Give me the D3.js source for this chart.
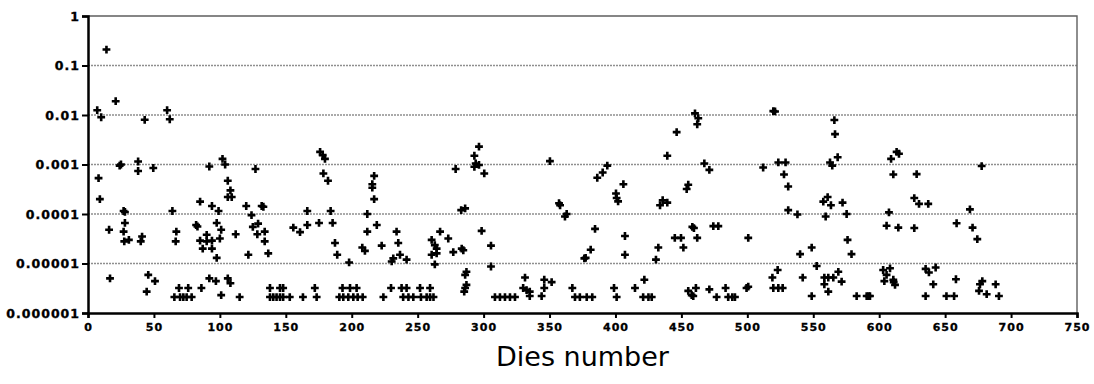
<!DOCTYPE html>
<html>
<head>
<meta charset="utf-8">
<script src="https://cdn.jsdelivr.net/npm/d3@7"></script>
<style>
  html, body { margin: 0; padding: 0; background: #fff; }
  svg { display: block; }
</style>
</head>
<body>
<svg id="chart" width="1094" height="384"></svg>
<script>
// Die index of each measured die
const dieNumber = [
  7, 10, 14, 21, 43, 60, 62,
  8, 9, 24, 25, 38, 38, 49.5,
  27, 28, 16, 28, 27, 27.5, 31, 41, 40,
  64, 67, 66.5,
  85, 94, 99, 92, 102, 104, 106, 108, 106, 109,
  120, 124, 125, 127,
  82, 83, 97.6, 101,
  85, 90, 90, 94, 87, 94, 100, 97.6, 112, 121.6,
  16.7, 45.7, 44.5, 50.8, 69, 76, 65.5, 69.8, 72.3, 74.8, 78.6, 86, 92, 97, 101, 106, 108, 115,
  131.7, 133, 129, 128.4, 134, 134, 136.7,
  155.7, 160.8, 166.3, 166.3, 175.2,
  176, 178, 179.7, 178.5, 182, 184, 185.5, 187.3, 189, 198,
  208, 210, 211.8, 211.8, 219, 222.7,
  217, 215.6, 215.6, 217,
  234, 235.3, 231.5, 230.3, 236.6, 241.6,
  138, 145.6, 148, 172, 193, 198.7, 203.7, 229.8, 237.8, 241.6, 251.8,
  138, 140.5, 143, 145.6, 148, 153, 163, 173.4, 190.6, 193.6, 197.4, 201.2, 204.5, 208.3, 224, 239, 243, 246.7,
  296.5, 293, 294, 296.5, 293, 300.5, 278.8,
  283, 286,
  350.3, 357.2, 358, 361.7, 363,
  267, 273.2,
  260.6, 263, 264.4, 260.6, 264.4, 263,
  277, 283.4, 284.6, 298.5, 305.6, 305.6,
  287, 286, 287, 286, 285.3,
  331.4, 330, 332.6, 335, 335,
  346, 346, 351.6, 344,
  367.3, 369.3, 373, 376.4,
  259.4,
  252.5, 256.8, 259.4, 262,
  308.6, 312.4, 316.2, 320, 323.8,
  460.3, 462.8, 462, 446.4, 439.3, 467.4, 471.2,
  393.8, 390.3, 386.2, 406, 400.4, 400.9, 402,
  455.2, 454, 435.8, 439.3, 433.8,
  384.5, 381.2, 377.4, 407.2, 407.2, 432.5, 430.7,
  445, 449.7, 451.5, 458.3, 459.5, 462, 474.2, 478, 500.7,
  378.2, 382.4, 398.9, 400.9, 414.8, 421.9, 421, 425, 427.5,
  455.2, 457.8, 459, 461, 471.2, 476.7, 483.5, 485.5, 488.6, 490.6, 499.4,
  519.7, 521, 566, 566.5, 568.5, 562.7, 564.4,
  512, 523.5, 529, 527.8, 531, 531, 538,
  609, 613.2, 615, 610.7,
  557.6, 560.9, 563.4, 559.4, 572.2, 575.3,
  576, 579,
  607.4, 605.6, 614.5,
  540, 548.8, 552.6,
  558.4, 561.4, 565.2, 569, 571.5, 558.4, 561.4,
  523, 519, 519.7, 523.5, 526.8,
  542, 548.8,
  582.9, 590.5, 592, 593,
  603, 608.2, 605.6, 603.9, 610.7, 612, 611,
  500.7,
  628.4, 626.6, 630.2, 637.2, 626.6,
  677.7, 668.8, 658.7, 670.8, 674.4,
  635.2, 637.7, 642.8, 641, 635.2, 658.2, 651, 656.8,
  676.4, 678.2, 675.7, 681.5, 688.3, 690.8
];

// Measured value of each die, same order as dieNumber
const dieValue = [
  0.0125, 0.009, 0.21, 0.019, 0.008, 0.0125, 0.0082,
  5.3e-4, 2.0e-4, 9.5e-4, 1.0e-3, 1.15e-3, 7.4e-4, 8.5e-4,
  1.15e-4, 1.1e-4, 4.8e-5, 6.6e-5, 4.4e-5, 2.8e-5, 3.0e-5, 3.5e-5, 2.8e-5,
  1.15e-4, 4.4e-5, 2.8e-5,
  1.78e-4, 1.45e-4, 1.15e-4, 9.1e-4, 1.3e-3, 1.0e-3, 4.7e-4, 3.0e-4, 2.2e-4, 2.2e-4,
  1.45e-4, 9.5e-5, 5.5e-5, 8.1e-4,
  6.0e-5, 5.6e-5, 6.6e-5, 4.8e-5,
  2.9e-5, 3.8e-5, 2.8e-5, 2.9e-5, 2.0e-5, 2.0e-5, 3.2e-5, 1.3e-5, 3.9e-5, 1.5e-5,
  5.0e-6, 5.9e-6, 2.7e-6, 4.4e-6, 3.2e-6, 3.2e-6, 2.1e-6, 2.1e-6, 2.1e-6, 2.1e-6, 2.1e-6, 3.2e-6, 5.0e-6, 4.4e-6, 2.3e-6, 5.0e-6, 4.0e-6, 2.1e-6,
  1.45e-4, 1.4e-4, 6.4e-5, 3.9e-5, 4.4e-5, 2.8e-5, 1.6e-5,
  5.3e-5, 4.3e-5, 6.0e-5, 1.15e-4, 6.6e-5,
  1.8e-3, 1.55e-3, 1.3e-3, 6.6e-4, 4.7e-4, 1.15e-4, 6.6e-5, 2.6e-5, 1.5e-5, 1.05e-5,
  2.1e-5, 1.8e-5, 4.4e-5, 1.0e-4, 6.0e-5, 2.3e-5,
  5.9e-4, 4.0e-4, 3.4e-4, 2.0e-4,
  4.4e-5, 2.6e-5, 1.27e-5, 1.1e-5, 1.5e-5, 1.2e-5,
  3.2e-6, 3.2e-6, 3.2e-6, 3.2e-6, 3.2e-6, 3.2e-6, 3.2e-6, 3.2e-6, 3.2e-6, 3.2e-6, 3.2e-6,
  2.1e-6, 2.1e-6, 2.1e-6, 2.1e-6, 2.1e-6, 2.1e-6, 2.1e-6, 2.1e-6, 2.1e-6, 2.1e-6, 2.1e-6, 2.1e-6, 2.1e-6, 2.1e-6, 2.1e-6, 2.1e-6, 2.1e-6, 2.1e-6,
  2.3e-3, 1.5e-3, 1.05e-3, 9.8e-4, 9.0e-4, 6.6e-4, 8.1e-4,
  1.2e-4, 1.3e-4,
  1.17e-3, 1.65e-4, 1.5e-4, 8.9e-5, 1.0e-4,
  4.4e-5, 3.2e-5,
  3.0e-5, 2.35e-5, 2.0e-5, 1.5e-5, 1.6e-5, 9.6e-6,
  1.7e-5, 2.0e-5, 1.85e-5, 4.55e-5, 2.3e-5, 8.7e-6,
  6.8e-6, 5.9e-6, 3.7e-6, 3.2e-6, 2.7e-6,
  5.2e-6, 3.2e-6, 2.9e-6, 2.7e-6, 2.2e-6,
  4.7e-6, 3.2e-6, 4.2e-6, 2.2e-6,
  3.2e-6, 2.1e-6, 2.1e-6, 1.27e-5,
  3.2e-6,
  2.1e-6, 2.1e-6, 2.1e-6, 2.1e-6,
  2.1e-6, 2.1e-6, 2.1e-6, 2.1e-6, 2.1e-6,
  0.0108, 0.0086, 0.0065, 4.5e-3, 1.5e-3, 1.05e-3, 7.8e-4,
  9.5e-4, 6.9e-4, 5.4e-4, 4.0e-4, 2.6e-4, 2.1e-4, 1.8e-4,
  3.9e-4, 3.2e-4, 1.9e-4, 1.7e-4, 1.5e-4,
  5.0e-5, 1.9e-5, 1.3e-5, 3.6e-5, 1.5e-5, 2.1e-5, 1.2e-5,
  3.3e-5, 3.3e-5, 2.1e-5, 5.5e-5, 5.2e-5, 3.3e-5, 5.7e-5, 5.7e-5, 3.3e-5,
  2.1e-6, 2.1e-6, 3.2e-6, 2.1e-6, 3.2e-6, 4.7e-6, 2.1e-6, 2.1e-6, 2.1e-6,
  2.8e-6, 2.3e-6, 2.2e-6, 3.2e-6, 3.0e-6, 2.1e-6, 3.2e-6, 2.1e-6, 2.1e-6, 2.1e-6, 3.2e-6,
  0.012, 0.0118, 0.0079, 4.1e-3, 1.4e-3, 1.1e-3, 9.5e-4,
  8.7e-4, 1.1e-3, 1.1e-3, 6.3e-4, 3.6e-4, 1.2e-4, 9.8e-5,
  1.3e-3, 1.8e-3, 1.65e-3, 6.3e-4,
  1.78e-4, 2.2e-4, 1.5e-4, 8.9e-5, 1.7e-4, 1.0e-4,
  3.0e-5, 1.55e-5,
  1.08e-4, 5.8e-5, 5.3e-5,
  1.55e-5, 2.1e-5, 8.9e-6,
  5.2e-6, 5.2e-6, 5.2e-6, 6.8e-6, 4.3e-6, 3.8e-6, 2.7e-6,
  7.4e-6, 5.2e-6, 3.2e-6, 3.2e-6, 3.2e-6,
  5.2e-6, 2.2e-6,
  2.2e-6, 2.2e-6, 2.2e-6, 2.2e-6,
  7.4e-6, 8.0e-6, 5.9e-6, 4.4e-6, 4.7e-6, 3.7e-6, 4.2e-6,
  3.4e-6,
  6.4e-4, 2.1e-4, 1.6e-4, 1.6e-4, 5.2e-5,
  9.3e-4, 1.24e-4, 6.5e-5, 5.3e-5, 3.1e-5,
  7.8e-6, 6.6e-6, 8.3e-6, 3.8e-6, 2.2e-6, 4.8e-6, 2.2e-6, 2.2e-6,
  3.8e-6, 4.4e-6, 2.8e-6, 2.4e-6, 3.8e-6, 2.2e-6
];

// Axis ticks
const xTicks = [0, 50, 100, 150, 200, 250, 300, 350, 400, 450, 500, 550, 600, 650, 700, 750];
const yTicks = [1e-6, 1e-5, 1e-4, 1e-3, 1e-2, 1e-1, 1];
const yTickLabels = ["0.000001", "0.00001", "0.0001", "0.001", "0.01", "0.1", "1"];
const xTitle = "Dies number";

const svg = d3.select("#chart");
const plot = { left: 88, right: 1077, top: 16, bottom: 313 };

const x = d3.scaleLinear().domain([0, 750]).range([plot.left, plot.right]);
const y = d3.scaleLog().domain([1e-6, 1]).range([plot.bottom, plot.top]);

// Horizontal grid lines, one per decade
svg.append("g")
  .selectAll("line")
  .data(yTicks.slice(1, -1))
  .join("line")
  .attr("x1", plot.left).attr("x2", plot.right)
  .attr("y1", d => y(d)).attr("y2", d => y(d))
  .attr("stroke", "#8f8f8f")
  .attr("stroke-width", 1.4)
  .attr("stroke-dasharray", "2,1");

// Plot frame: top edge and right edge
svg.append("path")
  .attr("d", `M${plot.left},${y(1)}H${plot.right}V${plot.bottom}`)
  .attr("fill", "none")
  .attr("stroke", "#5f5f5f")
  .attr("stroke-width", 1.4);

const labelFont = "'DejaVu Sans', Verdana, sans-serif";

// Y axis
const yAxis = d3.axisLeft(y)
  .tickValues(yTicks)
  .tickFormat((d, i) => yTickLabels[i])
  .tickSize(6)
  .tickPadding(2);
const gy = svg.append("g")
  .attr("transform", `translate(${plot.left},0)`)
  .call(yAxis);
gy.select(".domain").attr("stroke", "#000").attr("stroke-width", 2.5);
gy.selectAll(".tick line").attr("stroke", "#000").attr("stroke-width", 2);
gy.selectAll(".tick text")
  .attr("fill", "#000")
  .attr("stroke", "#000")
  .attr("stroke-width", 0.35)
  .style("font-family", labelFont)
  .style("font-weight", "bold")
  .style("font-size", "12.5px")
  .style("letter-spacing", "1px");

// X axis
const xAxis = d3.axisBottom(x)
  .tickValues(xTicks)
  .tickFormat(d3.format("d"))
  .tickSize(5)
  .tickPadding(5);
const gx = svg.append("g")
  .attr("transform", `translate(0,${plot.bottom})`)
  .call(xAxis);
gx.select(".domain").attr("stroke", "#000").attr("stroke-width", 2.5);
gx.selectAll(".tick line").attr("stroke", "#000").attr("stroke-width", 2);
gx.selectAll(".tick text")
  .attr("fill", "#000")
  .attr("stroke", "#000")
  .attr("stroke-width", 0.3)
  .style("font-family", labelFont)
  .style("font-weight", "bold")
  .style("font-size", "11px")
  .style("letter-spacing", "1px");

// Data points as bold crosses
const points = dieNumber.map((d, i) => ({ die: d, value: dieValue[i] }));
const cross = d3.symbol().type(d3.symbolCross).size(34);
svg.append("g")
  .selectAll("path")
  .data(points)
  .join("path")
  .attr("d", cross)
  .attr("transform", d => `translate(${x(d.die)},${y(d.value)})`)
  .attr("fill", "#000");

// Axis title
svg.append("text")
  .attr("x", (plot.left + plot.right) / 2)
  .attr("y", 366)
  .attr("text-anchor", "middle")
  .style("font-family", labelFont)
  .style("font-size", "27px")
  .attr("fill", "#000")
  .text(xTitle);
</script>
</body>
</html>
